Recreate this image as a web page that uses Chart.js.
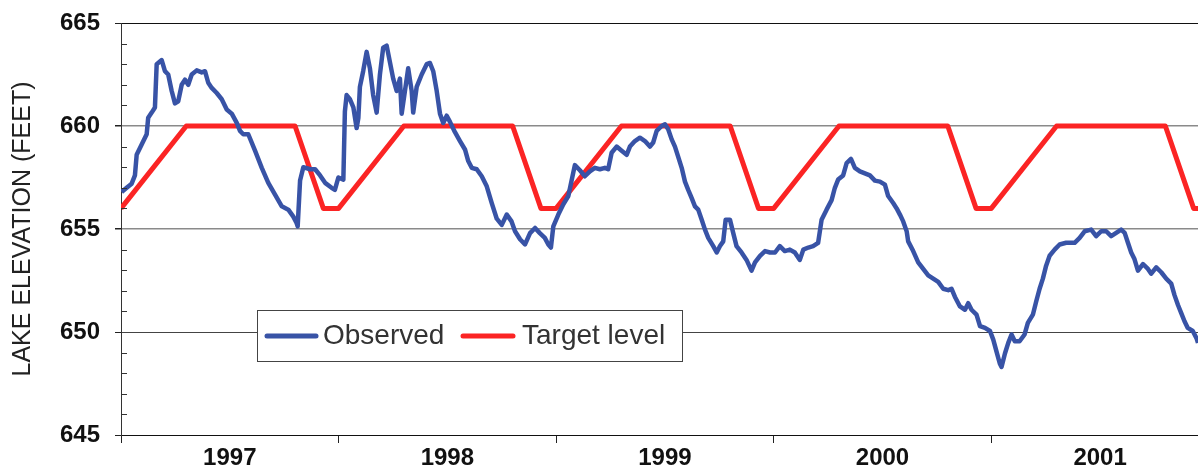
<!DOCTYPE html>
<html>
<head>
<meta charset="utf-8">
<script src="https://cdn.jsdelivr.net/npm/chart.js@4/dist/chart.umd.min.js"></script>
<style>
  html, body { margin: 0; padding: 0; background: #fff; }
  canvas { display: block; }
</style>
</head>
<body>
<canvas id="lake" width="1198" height="469"></canvas>
<script>
// year labels, one per calendar year
const yearLabels = ['1997', '1998', '1999', '2000', '2001']

// target level: corner points of the rule curve (decimal years, feet)
const targetYear = [1997.0, 1997.30, 1997.80, 1997.93, 1998.0, 1998.30, 1998.80, 1998.93,
  1999.0, 1999.30, 1999.80, 1999.93, 2000.0, 2000.30, 2000.80, 2000.93,
  2001.0, 2001.30, 2001.80, 2001.93, 2002.0]
const targetFeet = [656, 660, 660, 656, 656, 660, 660, 656,
  656, 660, 660, 656, 656, 660, 660, 656,
  656, 660, 660, 656, 656]

// observed lake elevation (decimal years, feet)
const obsYear = [
  1997.003, 1997.026, 1997.049, 1997.064, 1997.072, 1997.095, 1997.118, 1997.125, 1997.141, 1997.156,
  1997.164, 1997.187, 1997.202, 1997.217, 1997.233, 1997.248, 1997.263, 1997.279, 1997.294, 1997.309,
  1997.325, 1997.348, 1997.371, 1997.386, 1997.401, 1997.417, 1997.440, 1997.463, 1997.486, 1997.509,
  1997.532, 1997.547, 1997.562, 1997.585, 1997.616, 1997.647, 1997.677, 1997.708, 1997.739, 1997.769,
  1997.792, 1997.807, 1997.812, 1997.823, 1997.838, 1997.869, 1997.892, 1997.915, 1997.938, 1997.968,
  1997.983, 1997.999, 1998.022, 1998.029, 1998.037, 1998.052, 1998.068, 1998.083, 1998.091, 1998.098,
  1998.113, 1998.129, 1998.144, 1998.159, 1998.175, 1998.190, 1998.205, 1998.221, 1998.236, 1998.251,
  1998.267, 1998.282, 1998.290, 1998.305, 1998.320, 1998.336, 1998.343, 1998.359, 1998.382, 1998.405,
  1998.420, 1998.435, 1998.451, 1998.466, 1998.481, 1998.497, 1998.512, 1998.535, 1998.558, 1998.581,
  1998.596, 1998.612, 1998.635, 1998.658, 1998.681, 1998.704, 1998.727, 1998.750, 1998.773, 1998.795,
  1998.811, 1998.834, 1998.857, 1998.880, 1998.903, 1998.925, 1998.948, 1998.964, 1998.976, 1998.987,
  1999.010, 1999.033, 1999.056, 1999.071, 1999.086, 1999.109, 1999.132, 1999.155, 1999.178, 1999.201,
  1999.224, 1999.239, 1999.255, 1999.278, 1999.301, 1999.324, 1999.339, 1999.362, 1999.385, 1999.408,
  1999.431, 1999.446, 1999.462, 1999.485, 1999.500, 1999.515, 1999.531, 1999.546, 1999.561, 1999.577,
  1999.592, 1999.607, 1999.623, 1999.638, 1999.653, 1999.669, 1999.684, 1999.699, 1999.722, 1999.738,
  1999.753, 1999.768, 1999.779, 1999.799, 1999.814, 1999.829, 1999.852, 1999.875, 1999.898, 1999.914,
  1999.937, 1999.960, 1999.983, 2000.006, 2000.028, 2000.051, 2000.074, 2000.097, 2000.120, 2000.136,
  2000.159, 2000.181, 2000.204, 2000.220, 2000.243, 2000.266, 2000.281, 2000.296, 2000.319, 2000.335,
  2000.355, 2000.373, 2000.396, 2000.419, 2000.442, 2000.465, 2000.488, 2000.511, 2000.526, 2000.549,
  2000.565, 2000.580, 2000.595, 2000.611, 2000.618, 2000.641, 2000.664, 2000.687, 2000.710, 2000.733,
  2000.756, 2000.779, 2000.802, 2000.817, 2000.833, 2000.856, 2000.879, 2000.894, 2000.909, 2000.932,
  2000.948, 2000.971, 2000.994, 2001.009, 2001.024, 2001.039, 2001.047, 2001.063, 2001.078, 2001.093,
  2001.108, 2001.130, 2001.153, 2001.168, 2001.191, 2001.206, 2001.222, 2001.237, 2001.252, 2001.268,
  2001.291, 2001.314, 2001.344, 2001.383, 2001.406, 2001.429, 2001.459, 2001.482, 2001.505, 2001.528,
  2001.551, 2001.574, 2001.597, 2001.613, 2001.628, 2001.643, 2001.658, 2001.674, 2001.697, 2001.720,
  2001.735, 2001.758, 2001.781, 2001.804, 2001.827, 2001.842, 2001.858, 2001.873, 2001.888, 2001.903,
  2001.926, 2001.943, 2001.950
]
const obsFeet = [
  656.8, 657.0, 657.2, 657.6, 658.6, 659.1, 659.6, 660.4, 660.65, 660.9,
  663.0, 663.2, 662.66, 662.5, 661.7, 661.1, 661.2, 662.0, 662.25, 662.0,
  662.5, 662.7, 662.6, 662.66, 662.1, 661.85, 661.6, 661.3, 660.8, 660.6,
  660.15, 659.76, 659.6, 659.6, 658.8, 657.97, 657.24, 656.67, 656.1, 655.94,
  655.6, 655.29, 655.13, 657.35, 658.0, 657.9, 657.9, 657.6, 657.24, 657.0,
  656.9, 657.5, 657.4, 660.7, 661.5, 661.3, 660.9, 659.9, 660.4, 661.9,
  662.66, 663.6, 662.8, 661.5, 660.65, 662.5, 663.8, 663.9, 663.1, 662.3,
  661.7, 662.3, 660.6, 661.7, 662.8, 661.7, 660.65, 661.9, 662.5, 663.0,
  663.06, 662.66, 661.7, 660.6, 660.15, 660.5, 660.2, 659.7, 659.27, 658.86,
  658.3, 657.97, 657.9, 657.56, 657.07, 656.26, 655.5, 655.2, 655.7, 655.37,
  654.89, 654.5, 654.25, 654.8, 655.05, 654.8, 654.57, 654.25, 654.1, 655.13,
  655.7, 656.2, 656.6, 657.35, 658.1, 657.85, 657.56, 657.8, 657.97, 657.9,
  657.97, 657.9, 658.7, 659.0, 658.8, 658.6, 659.0, 659.27, 659.43, 659.27,
  659.0, 659.2, 659.76, 660.0, 660.08, 659.84, 659.35, 659.0, 658.5, 657.97,
  657.3, 656.9, 656.5, 656.1, 655.94, 655.45, 654.97, 654.57, 654.17, 653.86,
  654.17, 654.4, 655.45, 655.45, 654.8, 654.17, 653.86, 653.5, 652.98, 653.38,
  653.7, 653.93, 653.86, 653.86, 654.17, 653.93, 654.0, 653.86, 653.5, 654.0,
  654.1, 654.17, 654.33, 655.45, 655.94, 656.4, 657.0, 657.4, 657.6, 658.2,
  658.4, 657.97, 657.8, 657.7, 657.6, 657.35, 657.3, 657.15, 656.6, 656.26,
  656.0, 655.7, 655.37, 654.89, 654.4, 653.93, 653.38, 653.06, 652.75, 652.59,
  652.43, 652.1, 652.03, 652.1, 651.7, 651.24, 651.08, 651.4, 651.08, 650.84,
  650.29, 650.2, 650.05, 649.63, 649.05, 648.47, 648.3, 648.97, 649.47, 649.88,
  649.55, 649.55, 649.88, 650.44, 650.84, 651.47, 652.1, 652.59, 653.22, 653.7,
  654.0, 654.25, 654.33, 654.33, 654.57, 654.89, 654.97, 654.65, 654.89, 654.89,
  654.65, 654.81, 654.97, 654.81, 654.33, 653.86, 653.54, 652.98, 653.3, 653.06,
  652.83, 653.14, 652.9, 652.59, 652.35, 651.79, 651.31, 650.92, 650.52, 650.2,
  650.05, 649.7, 649.47
]

const FONT = "'Liberation Sans', Arial, Helvetica, sans-serif"

// x ticks: a mark at every year boundary, the label in the middle of the year
const xTicks = []
yearLabels.forEach(y => {
  xTicks.push({ value: +y })
  xTicks.push({ value: +y + 0.5 })
})

// small inside ticks on the y axis, one per foot
const minorTicks = {
  id: 'minorTicks',
  afterDraw(chart) {
    const y = chart.scales.y
    const ctx = chart.ctx
    const left = chart.chartArea.left
    ctx.save()
    ctx.strokeStyle = '#333'
    ctx.lineWidth = 1
    for (let v = y.min + 1; v < y.max; v++) {
      if (v % 5 === 0) continue
      const py = Math.round(y.getPixelForValue(v)) + 0.5
      ctx.beginPath()
      ctx.moveTo(left, py)
      ctx.lineTo(left + 6, py)
      ctx.stroke()
    }
    ctx.restore()
  }
}

// boxed legend sitting inside the plot
const boxLegend = {
  id: 'boxLegend',
  afterDatasetsDraw(chart) {
    const ctx = chart.ctx
    const bx = 257, by = 310, bw = 425, bh = 51
    ctx.save()
    ctx.fillStyle = '#fff'
    ctx.fillRect(bx, by, bw, bh)
    ctx.strokeStyle = '#444'
    ctx.lineWidth = 1
    ctx.strokeRect(bx + 0.5, by + 0.5, bw, bh)
    ctx.font = '28px ' + FONT
    ctx.fillStyle = '#333'
    ctx.textBaseline = 'alphabetic'
    const items = [
      { ds: chart.data.datasets[0], x1: 267, x2: 316, tx: 323 },
      { ds: chart.data.datasets[1], x1: 463, x2: 513, tx: 522 }
    ]
    items.forEach(it => {
      ctx.strokeStyle = it.ds.borderColor
      ctx.lineWidth = 5
      ctx.lineCap = 'round'
      ctx.beginPath()
      ctx.moveTo(it.x1, 336)
      ctx.lineTo(it.x2, 336)
      ctx.stroke()
      ctx.fillText(it.ds.label, it.tx, 344)
    })
    ctx.restore()
  }
}

const toPoints = (xs, ys) => xs.map((x, i) => ({ x: x, y: ys[i] }))

new Chart(document.getElementById('lake'), {
  type: 'line',
  data: {
    datasets: [{
      label: 'Observed',
      data: toPoints(obsYear, obsFeet),
      borderColor: '#3853a6',
      borderWidth: 4.5,
      pointRadius: 0,
      borderJoinStyle: 'round',
      tension: 0
    }, {
      label: 'Target level',
      data: toPoints(targetYear, targetFeet),
      borderColor: '#fb2424',
      borderWidth: 5,
      pointRadius: 0,
      borderJoinStyle: 'round',
      tension: 0
    }]
  },
  options: {
    responsive: false,
    animation: false,
    layout: { padding: { top: 23, right: 0, bottom: 0, left: 0 } },
    plugins: {
      legend: { display: false },
      tooltip: { enabled: false }
    },
    scales: {
      x: {
        type: 'linear',
        min: 1997,
        max: 2001.95,
        afterBuildTicks: (scale) => { scale.ticks = xTicks.map(t => ({ value: t.value })) },
        afterFit: (scale) => { scale.height = 34 },
        grid: {
          drawOnChartArea: false,
          drawTicks: true,
          tickLength: 8,
          tickColor: (c) => (c.tick && Number.isInteger(c.tick.value)) ? '#222' : 'rgba(0,0,0,0)'
        },
        border: { display: true, color: '#111', width: 1 },
        ticks: {
          autoSkip: false,
          maxRotation: 0,
          padding: 1,
          color: '#111',
          font: { family: FONT, size: 24, weight: 'bold' },
          callback: (v) => Number.isInteger(v) ? '' : String(Math.floor(v))
        }
      },
      y: {
        min: 645,
        max: 665,
        afterFit: (scale) => {
          scale.width = 121
          scale.paddingTop = 0
          scale.paddingBottom = 0
        },
        grid: {
          color: (c) => {
            const v = c.tick.value
            if (v === 665 || v === 645) return '#111'
            if (v === 650) return '#444'
            return '#8a8a8a'
          },
          lineWidth: (c) => (c.tick.value === 660 || c.tick.value === 655) ? 1.5 : 1,
          tickLength: 6,
          tickColor: '#222'
        },
        border: { display: true, color: '#333', width: 1 },
        ticks: {
          stepSize: 5,
          padding: 15,
          color: '#111',
          font: { family: FONT, size: 24, weight: 'bold' }
        },
        title: {
          display: true,
          text: 'LAKE ELEVATION (FEET)',
          color: '#222',
          padding: { top: 8, bottom: 0 },
          font: { family: FONT, size: 25, weight: 'normal' }
        }
      }
    }
  },
  plugins: [minorTicks, boxLegend]
})
</script>
</body>
</html>
